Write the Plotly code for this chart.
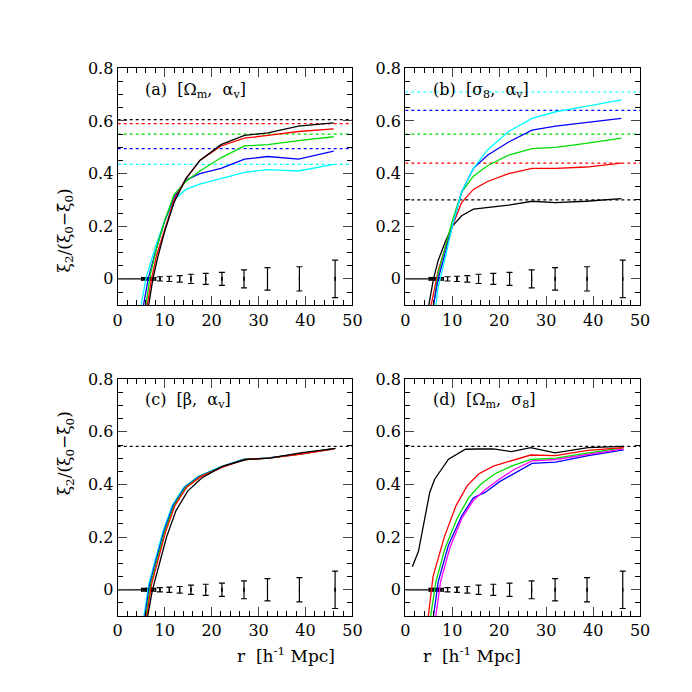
import plotly.graph_objects as go

# ---------------- data ----------------
r_eb = [5.6, 6.6, 7.6, 9.0, 11.0, 13.2, 15.6, 18.75, 22.2, 26.9, 31.9, 38.7, 46.3]
eb_top = [0.005, 0.005, 0.005, 0.008, 0.01, 0.0125, 0.0175, 0.021, 0.025, 0.034, 0.0425, 0.046, 0.071]
eb_bot = [0.005, 0.005, 0.005, 0.008, 0.01, 0.0125, 0.0175, 0.021, 0.025, 0.034, 0.0425, 0.046, 0.071]
eb_hx = [0.5, 0.5, 0.5, 0, 0, 0, 0, 0, 0, 0, 0, 0, 0]

# panel (a)
a_black_r = [6.6, 7.5, 8.5, 10, 12, 14.5, 17.5, 22, 27, 32, 38.5, 46]
a_black = [-0.1, 0.0, 0.08, 0.18, 0.29, 0.38, 0.45, 0.51, 0.545, 0.555, 0.58, 0.593]
a_red_r = [6.3, 7.2, 8.3, 10, 12, 14.5, 17.5, 22, 27, 32, 38.5, 46]
a_red = [-0.1, 0.0, 0.09, 0.19, 0.30, 0.38, 0.45, 0.505, 0.535, 0.545, 0.56, 0.57]
a_green_r = [6.0, 7.0, 8.5, 10, 12, 14.5, 17.5, 22, 27, 32, 38.5, 46]
a_green = [-0.1, 0.02, 0.13, 0.22, 0.32, 0.37, 0.41, 0.46, 0.505, 0.51, 0.525, 0.54]
a_blue_r = [5.5, 6.5, 8.0, 10, 12, 14.5, 17.5, 22, 27, 32, 38.5, 46]
a_blue = [-0.1, 0.0, 0.1, 0.22, 0.31, 0.375, 0.40, 0.42, 0.455, 0.465, 0.455, 0.485]
a_cyan_r = [5.0, 6.0, 8.0, 10, 12, 14.5, 17.5, 22, 27, 32, 38.5, 46]
a_cyan = [-0.1, 0.0, 0.12, 0.22, 0.30, 0.34, 0.36, 0.38, 0.405, 0.415, 0.41, 0.435]
a_ref = [0.605, 0.59, 0.55, 0.495, 0.435]

# panel (b)
b_cyan_r = [6.5, 7.0, 8.5, 10, 12, 14.5, 17.5, 22, 27, 32, 38.5, 46]
b_cyan = [-0.1, -0.03, 0.08, 0.2, 0.33, 0.42, 0.49, 0.56, 0.61, 0.635, 0.655, 0.68]
b_blue_r = [6.0, 7.0, 8.5, 10, 12, 14.5, 17.5, 22, 27, 32, 38.5, 46]
b_blue = [-0.1, 0.0, 0.1, 0.2, 0.33, 0.42, 0.47, 0.52, 0.565, 0.58, 0.595, 0.61]
b_green_r = [6.0, 7.0, 8.5, 10, 12, 14.5, 17.5, 22, 27, 32, 38.5, 46]
b_green = [-0.1, 0.02, 0.12, 0.22, 0.33, 0.39, 0.43, 0.47, 0.495, 0.50, 0.515, 0.535]
b_red_r = [5.5, 7.0, 8.5, 10, 12, 14.5, 17.5, 22, 27, 32, 38.5, 46]
b_red = [-0.1, 0.03, 0.12, 0.2, 0.29, 0.34, 0.37, 0.40, 0.42, 0.42, 0.425, 0.44]
b_black_r = [5.0, 6.0, 7.0, 8.5, 10, 12, 14.5, 17.5, 22, 27, 32, 38.5, 46]
b_black = [-0.1, 0.0, 0.07, 0.14, 0.2, 0.24, 0.265, 0.27, 0.28, 0.295, 0.29, 0.295, 0.305]
b_ref = [0.71, 0.64, 0.55, 0.44, 0.30]

# panel (c)
c_r = [6.0, 7.0, 8.5, 10, 12, 14.5, 17.5, 22, 27, 32, 38.5, 46]
c_vals = [-0.1, 0.02, 0.12, 0.22, 0.32, 0.39, 0.43, 0.465, 0.495, 0.50, 0.515, 0.535]
c_black_vals = [-0.1, 0.0, 0.1, 0.2, 0.30, 0.375, 0.425, 0.47, 0.495, 0.50, 0.52, 0.537]
c_offsets = [-0.4, -0.2, 0.0, 0.2, 0.4]
c_ref = 0.545

# panel (d)
d_black_r = [1.5, 2.8, 5.2, 6.25, 9.2, 12.8, 15.3, 18.75, 22.6, 26.7, 31.9, 38.9, 46.5]
d_black = [0.0875, 0.146, 0.37, 0.42, 0.496, 0.534, 0.535, 0.535, 0.525, 0.54, 0.52, 0.54, 0.545]
d_red_r = [4.9, 5.9, 8.3, 10.8, 13.2, 15.6, 18.75, 22.6, 26.7, 31.9, 38.9, 46.5]
d_red = [-0.1, 0.05, 0.2, 0.32, 0.396, 0.44, 0.47, 0.49, 0.512, 0.51, 0.53, 0.54]
d_green_r = [5.4, 6.5, 8.5, 11, 13.5, 16, 19, 22.6, 26.7, 32, 39, 46.5]
d_green = [-0.1, 0.03, 0.16, 0.27, 0.35, 0.40, 0.44, 0.47, 0.495, 0.50, 0.52, 0.54]
d_magenta_r = [6.5, 7.5, 9.5, 12, 14.5, 17, 20, 23, 27, 32, 39, 46.5]
d_magenta = [-0.1, 0.03, 0.16, 0.27, 0.34, 0.38, 0.42, 0.455, 0.49, 0.495, 0.515, 0.535]
d_blue_r = [6.0, 7.0, 9.2, 12, 14.5, 17, 20, 23, 27, 32, 39, 46.5]
d_blue = [-0.1, 0.03, 0.17, 0.28, 0.35, 0.37, 0.41, 0.44, 0.48, 0.485, 0.51, 0.532]

# ---------------- figure ----------------
FONT = "DejaVu Serif"
GREEN = "#00dd00"
fig = go.Figure()
xd = {1: [107/692, 347/692], 2: [401/692, 641/692], 3: [107/692, 347/692], 4: [401/692, 641/692]}
yd = {1: [1-292/692, 1-52/692], 2: [1-292/692, 1-52/692], 3: [1-607/692, 1-367/692], 4: [1-607/692, 1-367/692]}

def ax(i):
    return ("x" if i == 1 else f"x{i}"), ("y" if i == 1 else f"y{i}")

def line(i, x, y, color, dash="solid", width=1.3):
    xa, ya = ax(i)
    fig.add_trace(go.Scatter(x=x, y=y, mode="lines", line=dict(color=color, width=width, dash=dash),
                             xaxis=xa, yaxis=ya, showlegend=False, hoverinfo="skip"))

def hline(i, yv, color):
    line(i, [0, 50], [yv, yv], color, dash="dot", width=1.2)

def errors(i):
    xa, ya = ax(i)
    line(i, [0, 7.6], [0, 0], "black", width=1.2)
    fig.add_trace(go.Scatter(x=r_eb, y=[0]*len(r_eb), mode="markers",
                             marker=dict(size=1, color="black"),
                             error_y=dict(type="data", symmetric=False, array=eb_top, arrayminus=eb_bot,
                                          color="black", thickness=1.2, width=3),
                             error_x=dict(type="data", array=eb_hx, color="black", thickness=1, width=2),
                             xaxis=xa, yaxis=ya, showlegend=False, hoverinfo="skip"))

# (a)
for v, c in zip(a_ref, ["black", "red", GREEN, "blue", "cyan"]):
    hline(1, v, c)
errors(1)
line(1, a_cyan_r, a_cyan, "cyan"); line(1, a_blue_r, a_blue, "blue")
line(1, a_green_r, a_green, GREEN); line(1, a_red_r, a_red, "red"); line(1, a_black_r, a_black, "black")
# (b)
for v, c in zip(b_ref, ["cyan", "blue", GREEN, "red", "black"]):
    hline(2, v, c)
errors(2)
line(2, b_black_r, b_black, "black"); line(2, b_red_r, b_red, "red")
line(2, b_green_r, b_green, GREEN); line(2, b_blue_r, b_blue, "blue"); line(2, b_cyan_r, b_cyan, "cyan")
# (c)
hline(3, c_ref, "black")
errors(3)
for c, dx in zip(["cyan", "blue", GREEN, "red"], c_offsets[:4]):
    line(3, [r + dx for r in c_r], c_vals, c)
line(3, [r + c_offsets[4] for r in c_r], c_black_vals, "black")
# (d)
hline(4, c_ref, "black")
errors(4)
line(4, d_black_r, d_black, "black")
line(4, d_blue_r, d_blue, "blue"); line(4, d_magenta_r, d_magenta, "magenta")
line(4, d_green_r, d_green, GREEN); line(4, d_red_r, d_red, "red")

layout = dict(width=692, height=692, margin=dict(l=0, r=0, t=0, b=0),
              paper_bgcolor="white", plot_bgcolor="white",
              font=dict(family=FONT, size=15, color="black"))
for i in range(1, 5):
    xk = "xaxis" if i == 1 else f"xaxis{i}"
    yk = "yaxis" if i == 1 else f"yaxis{i}"
    layout[xk] = dict(domain=xd[i], range=[0, 50], tickvals=[0, 10, 20, 30, 40, 50],
                      ticks="inside", ticklen=9, tickwidth=1, mirror="allticks", showline=True,
                      linecolor="black", linewidth=1.2, showgrid=False, zeroline=False,
                      anchor=ax(i)[1], minor=dict(dtick=2, ticks="inside", ticklen=5, tickcolor="black"),
                      tickfont=dict(size=16, family=FONT))
    layout[yk] = dict(domain=yd[i], range=[-0.1, 0.8], tickvals=[0, 0.2, 0.4, 0.6, 0.8],
                      ticktext=["0", "0.2", "0.4", "0.6", "0.8"],
                      ticks="inside", ticklen=9, tickwidth=1, mirror="allticks", showline=True,
                      linecolor="black", linewidth=1.2, showgrid=False, zeroline=False,
                      anchor=ax(i)[0], minor=dict(dtick=0.05, ticks="inside", ticklen=5, tickcolor="black"),
                      tickfont=dict(size=16, family=FONT))
fig.update_layout(**layout)

labels = ["(a)  [Ω<sub>m</sub>,  α<sub>v</sub>]", "(b)  [σ<sub>8</sub>,  α<sub>v</sub>]",
          "(c)  [β,  α<sub>v</sub>]", "(d)  [Ω<sub>m</sub>,  σ<sub>8</sub>]"]
for i, t in enumerate(labels, 1):
    fig.add_annotation(x=xd[i][0] + 26/692, y=yd[i][1] - 22/692, xref="paper", yref="paper",
                       text=t, showarrow=False, xanchor="left", yanchor="middle",
                       font=dict(size=16, family=FONT))
ytitle = "ξ<sub>2</sub>/(ξ<sub>0</sub>−ξ̄<sub>0</sub>)"
for i in (1, 3):
    fig.add_annotation(x=40/692, y=sum(yd[i])/2, xref="paper", yref="paper", text=ytitle,
                       textangle=-90, showarrow=False, font=dict(size=17, family=FONT))
for i in (3, 4):
    fig.add_annotation(x=sum(xd[i])/2, y=1-660/692, xref="paper", yref="paper",
                       text="r  [h<sup>-1</sup> Mpc]", showarrow=False, font=dict(size=17, family=FONT))

fig.write_html("out.html")
